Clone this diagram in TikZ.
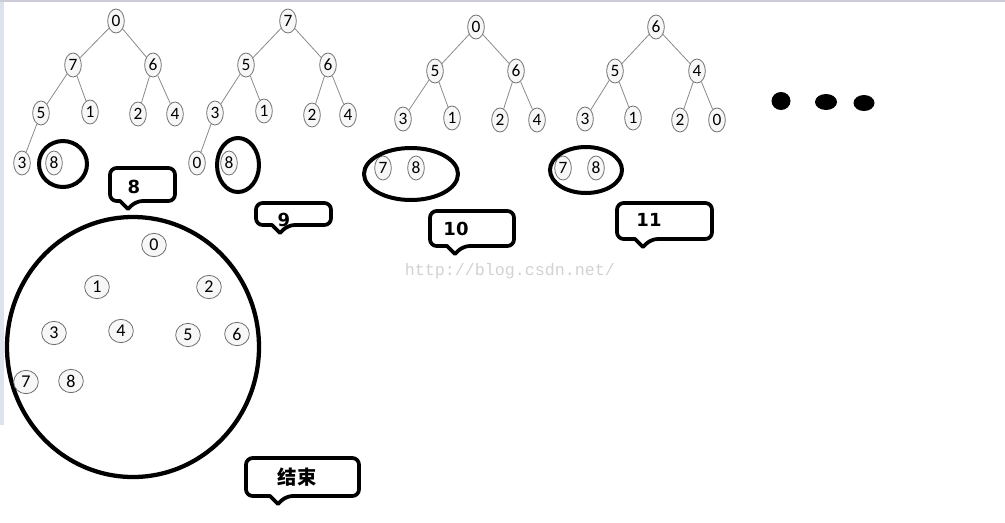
\documentclass[tikz,border=0pt]{standalone}
\usepackage{fontspec}
\setmainfont{Carlito}
\newfontfamily\calfont{DejaVu Sans}
\newfontfamily\cjk{Noto Sans CJK SC}
\newfontfamily\wmfont{Liberation Mono}
\usetikzlibrary{shapes.geometric}
\definecolor{nodeline}{HTML}{707070}
\definecolor{edgegray}{HTML}{8A8A8A}
\definecolor{stripcol}{HTML}{DDE3EC}
\definecolor{topline}{HTML}{CCCCD8}
\tikzset{
  tn/.style={ellipse, draw=nodeline, line width=0.6pt, fill=gray!6, inner sep=0pt,
    minimum width=12.5pt, minimum height=18pt, font=\fontsize{13}{13}\selectfont},
  cn/.style={ellipse, draw=nodeline, line width=0.6pt, fill=gray!6, inner sep=0pt,
    minimum width=18.5pt, minimum height=17.5pt, font=\fontsize{13.5}{13.5}\selectfont},
  edge/.style={draw=edgegray, line width=0.6pt},
  ring/.style={draw=black, line width=3pt},
  cbox/.style={draw=black, line width=2.8pt, line join=round},
  ctext/.style={font=\calfont\bfseries\fontsize{13.5}{13.5}\selectfont, inner sep=0pt},
  dot/.style={fill=black, draw=none},
}
% box: x1,y1,x2,y2,pointer x
\newcommand{\calloutbox}[5]{%
  \draw[cbox] [rounded corners=5pt] (#1,#2) -- (#3,#2) -- (#3,#4) -- ({#5+8},#4)
    [sharp corners] -- (#5,{#4+8}) -- ({#5-8},#4) [rounded corners=5pt] -- (#1,#4) -- cycle;}
\begin{document}
\begin{tikzpicture}[x=0.75pt,y=-0.75pt]
\useasboundingbox (0,0) rectangle (1005,522);
\fill[white] (0,0) rectangle (1005,522);
\fill[stripcol] (0,0) rectangle (4,425);
\fill[topline] (0,0) rectangle (1005,2);

% ---------- tree 1 ----------
\node[tn] (a0) at (116,21) {0};
\node[tn] (a7) at (73,65) {7};
\node[tn] (a6) at (153,65) {6};
\node[tn] (a5) at (41,113) {5};
\node[tn] (a1) at (90,112) {1};
\node[tn] (a2) at (138,114) {2};
\node[tn] (a4) at (175,114) {4};
\node[tn] (a3) at (22,163) {3};
\node[tn] (a8) at (54,163) {8};
\draw[edge] (a0) -- (a7);
\draw[edge] (a0) -- (a6);
\draw[edge] (a7) -- (a5);
\draw[edge] (a7) -- (a1);
\draw[edge] (a6) -- (a2);
\draw[edge] (a6) -- (a4);
\draw[edge] (a5) -- (a3);
\draw[ring] (63,164) ellipse [x radius=24, y radius=23];

% ---------- tree 2 ----------
\node[tn] (b7) at (288,21) {7};
\node[tn] (b5) at (246,65) {5};
\node[tn] (b6) at (328,65) {6};
\node[tn] (b3) at (215,113) {3};
\node[tn] (b1) at (264,111) {1};
\node[tn] (b2) at (312,115) {2};
\node[tn] (b4) at (348,115) {4};
\node[tn] (b0) at (197,163) {0};
\node[tn] (b8) at (229,163) {8};
\draw[edge] (b7) -- (b5);
\draw[edge] (b7) -- (b6);
\draw[edge] (b5) -- (b3);
\draw[edge] (b5) -- (b1);
\draw[edge] (b6) -- (b2);
\draw[edge] (b6) -- (b4);
\draw[edge] (b3) -- (b0);
\draw[ring] (238,165) ellipse [x radius=21, y radius=27];

% ---------- tree 3 ----------
\node[tn] (c0) at (476,27) {0};
\node[tn] (c5) at (435,71) {5};
\node[tn] (c6) at (516,71) {6};
\node[tn] (c3) at (403,119) {3};
\node[tn] (c1) at (452,118) {1};
\node[tn] (c2) at (500,120) {2};
\node[tn] (c4) at (537,120) {4};
\node[tn] (c7) at (383,168) {7};
\node[tn] (c8) at (416,168) {8};
\draw[edge] (c0) -- (c5);
\draw[edge] (c0) -- (c6);
\draw[edge] (c5) -- (c3);
\draw[edge] (c5) -- (c1);
\draw[edge] (c6) -- (c2);
\draw[edge] (c6) -- (c4);
\draw[ring] (411,174) ellipse [x radius=47, y radius=26];

% ---------- tree 4 ----------
\node[tn] (d6) at (656,27) {6};
\node[tn] (d5) at (615,71) {5};
\node[tn] (d4) at (697,71) {4};
\node[tn] (d3) at (585,119) {3};
\node[tn] (d1) at (633,118) {1};
\node[tn] (d2) at (680,120) {2};
\node[tn] (d0) at (717,120) {0};
\node[tn] (d7) at (563,168) {7};
\node[tn] (d8) at (596,168) {8};
\draw[edge] (d6) -- (d5);
\draw[edge] (d6) -- (d4);
\draw[edge] (d5) -- (d3);
\draw[edge] (d5) -- (d1);
\draw[edge] (d4) -- (d2);
\draw[edge] (d4) -- (d0);
\draw[ring] (586,170) ellipse [x radius=36, y radius=23];

% ---------- dots ----------
\fill[dot] (781,101) ellipse [x radius=9.5, y radius=9];
\fill[dot] (826,102) ellipse [x radius=11, y radius=8];
\fill[dot] (864,103) ellipse [x radius=10.5, y radius=8];

% ---------- callouts ----------
\node[ctext] (l8) at (134,187) {8};
\calloutbox{110}{168}{175}{201}{128}

\node[ctext] (l9) at (284,220) {9};
\calloutbox{256}{203}{331}{225}{280}

\node[ctext] (l10) at (456,229) {10};
\calloutbox{430}{211}{514}{246}{455}

\node[ctext] (l11) at (649,220) {11};
\calloutbox{617}{203}{712}{239}{643}

\node[font=\cjk\bfseries\fontsize{14.5}{14.5}\selectfont, inner sep=0pt] (lend) at (297,477) {结束};
\calloutbox{246}{458}{359}{496}{278}

% ---------- final big circle ----------
\draw[ring, line width=3.2pt] (133,347) ellipse [x radius=126, y radius=130];
\node[cn] (e0) at (154,245) {0};
\node[cn] (e1) at (97,287) {1};
\node[cn] (e2) at (209,287) {2};
\node[cn] (e3) at (54,333) {3};
\node[cn] (e4) at (121,331) {4};
\node[cn] (e5) at (188,335) {5};
\node[cn] (e6) at (237,334) {6};
\node[cn] (e7) at (26,382) {7};
\node[cn] (e8) at (71,381) {8};

% ---------- watermark ----------
\node[font=\wmfont\fontsize{12.5}{12.5}\selectfont, text=gray!35, inner sep=0pt] (wm) at (510,271) {http://blog.csdn.net/};
\end{tikzpicture}
\end{document}
